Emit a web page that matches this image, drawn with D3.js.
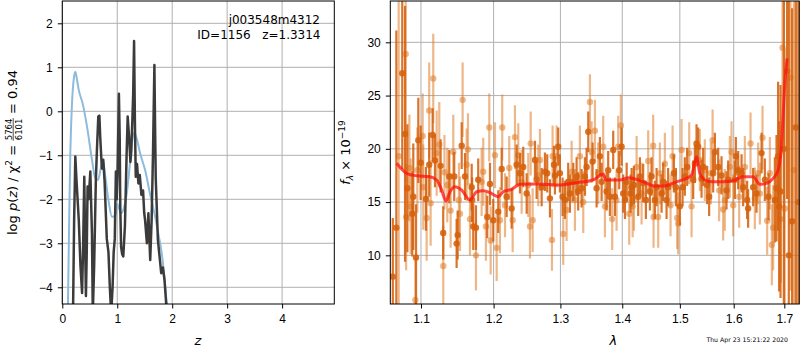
<!DOCTYPE html>
<html>
<head>
<meta charset="utf-8">
<script src="https://cdn.jsdelivr.net/npm/d3@7"></script>
<style>
  body { margin: 0; background: #fff; }
  svg { font-family: "DejaVu Sans", sans-serif; display: block; }
  .grid line { stroke: #b0b0b0; stroke-width: 1; }
  .axis text { font-size: 12px; fill: #000; }
  .axis line { stroke: #000; }
  .frame { fill: none; stroke: #000; stroke-width: 1; }
</style>
</head>
<body>
<svg width="800" height="350"></svg>
<script>
// ---- left panel: log p(z) ----
const zTicks = [0, 1, 2, 3, 4];
const pTicks = [-4, -3, -2, -1, 0, 1, 2];

// prior-ish smooth curve (light blue)
const blueCurve = [
  [0.10, -4.6], [0.125, -2.5], [0.146, -0.95], [0.177, 0.19], [0.21, 0.75], [0.237, 0.9],
  [0.27, 0.7], [0.30, 0.48], [0.37, 0.18], [0.45, -0.35], [0.54, -1.1], [0.60, -1.52],
  [0.65, -1.56], [0.70, -1.3], [0.74, -1.12], [0.78, -1.45], [0.84, -2.02], [0.905, -2.4],
  [0.965, -2.36], [1.0, -2.1], [1.03, -2.2], [1.075, -2.32], [1.12, -2.2], [1.17, -1.9],
  [1.23, -1.2], [1.28, -0.6], [1.31, -0.49], [1.36, -0.65], [1.415, -0.95], [1.506, -1.33],
  [1.60, -1.9], [1.69, -2.4], [1.75, -2.8], [1.81, -3.23], [1.86, -3.8], [1.90, -4.36], [1.93, -4.7]
];

// jagged p(z) (dark grey)
const darkCurve = [
  [0.195, -4.6], [0.215, -2.5], [0.237, -1.03], [0.26, -1.6], [0.30, -2.47], [0.33, -3.5],
  [0.36, -4.13], [0.38, -3.0], [0.40, -1.49], [0.415, -3.0], [0.43, -4.2], [0.445, -3.2],
  [0.46, -1.71], [0.48, -2.0], [0.51, -1.37], [0.54, -2.8], [0.555, -4.6], [0.58, -3.5],
  [0.61, -1.6], [0.63, -0.88], [0.655, -0.12], [0.675, -0.1], [0.69, -0.58], [0.72, -1.3],
  [0.745, -1.1], [0.77, -1.6], [0.81, -2.9], [0.84, -3.2], [0.865, -4.0], [0.89, -4.6],
  [0.915, -4.0], [0.935, -3.2], [0.955, -2.9], [0.975, -1.37], [0.99, -2.0], [1.005, -1.4],
  [1.03, 0.4], [1.045, -0.6], [1.055, -2.17], [1.07, -3.08], [1.09, -3.25], [1.11, -3.3],
  [1.14, -2.6], [1.17, -1.0], [1.19, -0.12], [1.215, -0.58], [1.24, -1.15], [1.255, -0.9],
  [1.275, -0.2], [1.29, 0.4], [1.306, 1.6], [1.322, -0.3], [1.337, -1.49], [1.36, -1.2],
  [1.385, -1.64], [1.41, -1.45], [1.44, -1.9], [1.47, -1.8], [1.49, -2.3], [1.506, -2.47],
  [1.54, -3.0], [1.567, -2.32], [1.585, -2.9], [1.60, -3.38], [1.625, -2.5], [1.65, -1.0],
  [1.676, 1.05], [1.69, -0.5], [1.70, -1.5], [1.74, -2.93], [1.77, -3.3], [1.80, -3.68],
  [1.83, -3.55], [1.86, -3.83], [1.89, -4.36], [1.91, -4.7]
];

// ---- right panel: spectrum ----
const lamTicks = [1.1, 1.2, 1.3, 1.4, 1.5, 1.6, 1.7];
const fluxTicks = [10, 15, 20, 25, 30];

// [lambda, flux, error]
const specLight = [
  [1.071, 19.3, 16], [1.080, 28.9, 12], [1.0806, 13.6, 5], [1.0848, 18.2, 5], [1.0865, 14.6, 4.5],
  [1.0926, 5.8, 4], [1.0952, 18.0, 4], [1.1022, 21.2, 4], [1.103, 16.4, 4], [1.1075, 13.5, 4],
  [1.1109, 23.6, 4.5], [1.1128, 14.9, 4], [1.1163, 26.6, 4.2], [1.1209, 19.6, 4], [1.1244, 20.4, 4],
  [1.1298, 9.0, 3.8], [1.1314, 17.8, 3.5], [1.1352, 16.6, 3.5], [1.1398, 14.2, 3.5], [1.1434, 19.7, 3.5],
  [1.1512, 15.2, 3.5], [1.1526, 13.9, 3.5], [1.1563, 24.6, 3.5], [1.1619, 18.5, 3.4], [1.1637, 19.95, 3.4],
  [1.1665, 13.4, 3.4], [1.1749, 10.0, 3.3], [1.1829, 16.9, 3.2], [1.1852, 17.85, 3.2], [1.189, 12.7, 3.2],
  [1.1938, 22.0, 3.2], [1.1958, 11.4, 3.2], [1.202, 19.4, 3.1], [1.2044, 10.7, 3.1], [1.2092, 13.3, 3.1],
  [1.2125, 22.0, 3.1], [1.2165, 14.7, 3.0], [1.2227, 18.2, 3.0], [1.2277, 13.3, 3.0], [1.2311, 21.1, 3.0],
  [1.236, 19.4, 3.0], [1.241, 16.9, 3.0], [1.2509, 16.6, 3.0], [1.2534, 12.7, 3.0], [1.2545, 20.5, 3.0],
  [1.2575, 13.3, 3.0], [1.266, 17.5, 2.9], [1.2685, 18.95, 2.9], [1.2869, 11.45, 2.9], [1.2879, 19.3, 2.9],
  [1.2941, 19.3, 2.9], [1.3044, 12.0, 2.9], [1.3097, 14.25, 2.9], [1.3176, 17.85, 2.9], [1.3228, 15.2, 2.9],
  [1.3307, 19.3, 2.9], [1.3361, 15.0, 2.9], [1.3468, 24.4, 2.6], [1.3495, 19.7, 2.9], [1.3549, 21.7, 2.9],
  [1.3602, 17.7, 2.9], [1.3684, 20.2, 2.9], [1.3712, 14.6, 2.9], [1.3832, 13.4, 2.9], [1.3905, 15.2, 2.9],
  [1.3932, 20.2, 2.9], [1.3977, 22.2, 2.9], [1.4117, 13.9, 2.9], [1.4175, 14.6, 2.9], [1.4197, 15.2, 2.9],
  [1.4243, 18.3, 2.9], [1.4328, 15.8, 2.9], [1.4442, 18.85, 2.9], [1.4528, 20.3, 2.9], [1.4535, 13.6, 2.9],
  [1.4616, 13.6, 2.9], [1.4645, 17.7, 2.9], [1.4733, 18.6, 2.9], [1.4834, 14.7, 2.9], [1.487, 19.3, 2.9],
  [1.4952, 13.5, 2.9], [1.497, 13.0, 2.9], [1.5031, 19.9, 2.9], [1.5169, 19.6, 2.9], [1.5212, 14.6, 2.9],
  [1.5364, 18.95, 2.9], [1.5456, 18.0, 2.9], [1.5568, 17.7, 2.9], [1.56, 20.8, 2.9], [1.5723, 16.1, 2.9],
  [1.5799, 14.3, 2.9], [1.583, 15.2, 2.9], [1.5926, 18.3, 2.9], [1.5958, 19.7, 2.9], [1.5989, 14.7, 2.9],
  [1.6105, 15.5, 2.9], [1.6215, 18.3, 2.9], [1.6326, 20.5, 2.9], [1.641, 15.35, 2.9], [1.6476, 17.7, 2.9],
  [1.6509, 15.8, 2.9], [1.6562, 21.05, 3.0], [1.6654, 13.25, 3.2], [1.6708, 17.7, 3.4], [1.6748, 11.0, 3.8],
  [1.6774, 12.6, 4.0], [1.6929, 13.4, 6], [1.6964, 29.5, 10], [1.701, 14.4, 15], [1.7127, 26.7, 20],
  [1.7196, 18.0, 30]
];

const specDark = [
  [1.0635, 8.0, 5.5], [1.068, 12.6, 18.5], [1.0756, 27.1, 9], [1.0792, 21.4, 12], [1.0822, 16.3, 6],
  [1.0886, 13.9, 4], [1.0899, 15.5, 5], [1.0935, 9.8, 5], [1.0965, 20.8, 4], [1.0996, 18.7, 3.5],
  [1.1066, 15.3, 3], [1.1109, 18.5, 3], [1.1155, 21.3, 2.5], [1.1186, 18.9, 2.5], [1.1262, 18.4, 2.5],
  [1.1297, 12.1, 2.5], [1.1379, 17.4, 2.5], [1.1447, 17.4, 2.3], [1.148, 11.1, 2.3], [1.1494, 11.9, 2.3],
  [1.155, 20.3, 2.2], [1.1596, 17.4, 2.2], [1.1689, 16.4, 2.2], [1.1695, 15.2, 2.1], [1.1711, 12.7, 2.2],
  [1.1749, 12.6, 2.1], [1.1781, 17.1, 2.0], [1.1909, 13.6, 2.0], [1.1948, 16.7, 2.0], [1.1995, 13.3, 2.0],
  [1.2067, 14.1, 2.0], [1.2117, 18.1, 2.0], [1.2189, 15.5, 1.9], [1.2262, 14.4, 1.9], [1.2336, 18.5, 1.9],
  [1.2385, 17.7, 1.9], [1.2434, 18.3, 1.9], [1.2485, 15.8, 1.9], [1.261, 18.95, 1.8], [1.2635, 17.1, 1.8],
  [1.2711, 16.4, 1.8], [1.2761, 17.85, 1.8], [1.2796, 17.7, 1.8], [1.2838, 15.35, 1.8], [1.29, 18.5, 1.8],
  [1.2915, 17.5, 1.8], [1.2966, 20.2, 1.8], [1.2992, 17.7, 1.8], [1.3034, 15.5, 1.8], [1.307, 15.2, 1.8],
  [1.3122, 16.9, 1.8], [1.3149, 15.8, 1.8], [1.3202, 16.9, 1.8], [1.3255, 17.4, 1.8], [1.328, 16.0, 1.8],
  [1.3334, 16.3, 1.8], [1.3388, 17.4, 1.8], [1.3415, 18.3, 1.8], [1.3441, 21.6, 1.9], [1.3511, 18.8, 1.8],
  [1.3576, 16.3, 1.8], [1.363, 19.3, 1.8], [1.3658, 16.9, 1.8], [1.374, 16.0, 1.8], [1.3766, 18.0, 1.8],
  [1.3794, 15.5, 1.8], [1.3849, 19.9, 1.8], [1.3877, 15.5, 1.8], [1.3949, 18.0, 1.8], [1.3989, 20.2, 1.8],
  [1.4016, 15.8, 1.8], [1.4045, 15.2, 1.8], [1.4074, 16.9, 1.8], [1.4141, 15.8, 1.8], [1.4158, 16.4, 1.8],
  [1.4197, 16.6, 1.8], [1.427, 15.5, 1.8], [1.4299, 17.4, 1.8], [1.4355, 16.8, 1.8], [1.4402, 15.2, 1.8],
  [1.4471, 16.0, 1.8], [1.45, 17.4, 1.8], [1.4558, 15.2, 1.8], [1.4588, 16.4, 1.8], [1.4675, 15.8, 1.8],
  [1.4703, 16.9, 1.8], [1.4763, 15.2, 1.8], [1.4791, 16.4, 1.8], [1.4893, 17.7, 1.8], [1.4929, 16.4, 1.8],
  [1.5, 14.6, 1.8], [1.5049, 16.4, 1.8], [1.509, 17.4, 1.8], [1.5132, 18.3, 1.8], [1.5242, 17.1, 1.8],
  [1.5273, 18.6, 1.8], [1.5303, 20.5, 1.8], [1.5333, 20.2, 1.8], [1.5395, 17.2, 1.8], [1.5425, 18.3, 1.8],
  [1.5499, 16.6, 1.8], [1.5536, 15.5, 1.8], [1.5611, 17.7, 1.8], [1.5643, 19.7, 1.8], [1.5705, 18.3, 1.8],
  [1.5768, 17.5, 1.8], [1.5862, 16.1, 1.8], [1.5894, 17.1, 1.8], [1.6022, 17.1, 1.8], [1.6041, 19.3, 1.8],
  [1.6086, 18.0, 1.8], [1.6151, 17.7, 1.8], [1.6182, 16.4, 1.8], [1.6259, 15.2, 1.8], [1.6279, 14.4, 1.8],
  [1.6377, 16.4, 1.8], [1.6443, 15.8, 1.8], [1.6543, 19.6, 1.9], [1.6608, 17.1, 2.0], [1.6682, 15.5, 2.2],
  [1.6808, 15.2, 4], [1.6842, 16.3, 5], [1.6874, 19.3, 7], [1.6895, 14.6, 8], [1.6923, 16.0, 10],
  [1.699, 20.0, 25], [1.7057, 27.3, 12], [1.7092, 10.0, 30], [1.7159, 13.2, 20], [1.7237, 22.0, 30],
  [1.7288, 15.0, 30]
];

// best-fit model (red)
const modelCurve = [
  [1.0684, 18.64], [1.0813, 17.7], [1.0943, 17.47], [1.1119, 17.38], [1.1209, 17.07], [1.1276, 16.13],
  [1.1334, 15.1], [1.1389, 15.97], [1.1457, 16.44], [1.1549, 16.13], [1.1665, 15.19], [1.1759, 15.97],
  [1.1852, 16.07], [1.1948, 15.88], [1.2067, 15.5], [1.2139, 15.97], [1.2262, 16.2], [1.2385, 16.67],
  [1.2635, 16.7], [1.2992, 16.6], [1.3255, 16.82], [1.3521, 17.07], [1.3684, 17.63], [1.3728, 17.07],
  [1.396, 17.07], [1.41, 17.29], [1.4355, 16.9], [1.4558, 16.5], [1.4703, 16.5], [1.4941, 16.9],
  [1.5122, 17.23], [1.5212, 17.54], [1.5303, 19.26], [1.5364, 17.7], [1.5456, 17.07], [1.5611, 16.9],
  [1.5799, 16.9], [1.5989, 17.0], [1.6182, 17.38], [1.6377, 17.38], [1.6509, 16.67], [1.6642, 16.76],
  [1.6774, 17.23], [1.6874, 18.0], [1.6923, 19.26], [1.6964, 22.07], [1.701, 26.15], [1.7057, 28.5]
];

const svg = d3.select('svg');
const plotTop = 1, plotBottom = 304;

// ===== Left panel =====
const L = { x0: 62.3, x1: 334.3 };
const xZ = d3.scaleLinear().domain([0, 4.95]).range([L.x0, L.x1]);
const yP = d3.scaleLinear().domain([-4.38, 2.507]).range([plotBottom, plotTop]);

svg.append('clipPath').attr('id', 'clipL')
  .append('rect').attr('x', L.x0).attr('y', plotTop).attr('width', L.x1 - L.x0).attr('height', plotBottom - plotTop);

const gridL = svg.append('g').attr('class', 'grid');
gridL.selectAll('.vx').data(zTicks).enter().append('line')
  .attr('x1', d => xZ(d)).attr('x2', d => xZ(d)).attr('y1', plotTop).attr('y2', plotBottom);
gridL.selectAll('.hy').data(pTicks).enter().append('line')
  .attr('x1', L.x0).attr('x2', L.x1).attr('y1', d => yP(d)).attr('y2', d => yP(d));

svg.append('path')
  .datum(blueCurve)
  .attr('clip-path', 'url(#clipL)')
  .attr('d', d3.line().x(d => xZ(d[0])).y(d => yP(d[1])).curve(d3.curveMonotoneX))
  .attr('fill', 'none').attr('stroke', '#8dbbdb').attr('stroke-width', 2);

svg.append('path')
  .datum(darkCurve)
  .attr('clip-path', 'url(#clipL)')
  .attr('d', d3.line().x(d => xZ(d[0])).y(d => yP(d[1])))
  .attr('fill', 'none').attr('stroke', '#3b3b3b').attr('stroke-width', 2.5)
  .attr('stroke-linejoin', 'round');

svg.append('g').attr('class', 'axis')
  .attr('transform', `translate(0,${plotBottom})`)
  .call(d3.axisBottom(xZ).tickValues(zTicks).tickSize(4.5).tickPadding(5.5).tickFormat(d3.format('d')))
  .call(g => g.select('.domain').remove());
svg.append('g').attr('class', 'axis')
  .attr('transform', `translate(${L.x0},0)`)
  .call(d3.axisLeft(yP).tickValues(pTicks).tickSize(4.5).tickPadding(5).tickFormat(d3.format('d')))
  .call(g => g.select('.domain').remove());

svg.append('rect').attr('class', 'frame')
  .attr('x', L.x0).attr('y', plotTop).attr('width', L.x1 - L.x0).attr('height', plotBottom - plotTop);

// annotation
svg.append('text').attr('x', 320).attr('y', 24).attr('text-anchor', 'end')
  .attr('font-size', 12).text('j003548m4312');
svg.append('text').attr('x', 320.5).attr('y', 39).attr('text-anchor', 'end')
  .attr('font-size', 12).style('white-space', 'pre').text('ID=1156   z=1.3314');

svg.append('text').attr('x', xZ(2.47)).attr('y', 345).attr('text-anchor', 'middle')
  .attr('font-size', 13).attr('font-style', 'italic').text('z');

// rotated y label with a stacked fraction
function rotatedLabel(cy, baseX, parts) {
  const g = svg.append('g').attr('transform', `translate(${baseX},${cy}) rotate(-90)`);
  let cur = 0;
  const items = [];
  parts.forEach(p => {
    if (p.frac) {
      const num = g.append('text').attr('font-size', 8.5).attr('text-anchor', 'middle')
        .attr('y', -5.5).text(p.frac[0]);
      const den = g.append('text').attr('font-size', 8.5).attr('text-anchor', 'middle')
        .attr('y', 4.8).text(p.frac[1]);
      const w = Math.max(num.node().getComputedTextLength(), den.node().getComputedTextLength()) + 1;
      const bar = g.append('line').attr('y1', -3.8).attr('y2', -3.8)
        .attr('stroke', '#000').attr('stroke-width', 0.7);
      items.push({ w, place: x0 => {
        num.attr('x', x0 + w / 2); den.attr('x', x0 + w / 2);
        bar.attr('x1', x0).attr('x2', x0 + w);
      } });
      cur += w;
    } else {
      const t = g.append('text').attr('font-size', p.size || 13)
        .attr('font-style', p.italic ? 'italic' : 'normal')
        .attr('y', p.dy || 0).style('white-space', 'pre').text(p.t);
      const w = t.node().getComputedTextLength();
      items.push({ w, place: x0 => t.attr('x', x0) });
      cur += w;
    }
  });
  let x = -cur / 2;
  items.forEach(it => { it.place(x); x += it.w; });
}

rotatedLabel((plotTop + plotBottom) / 2, 17, [
  { t: 'log ' }, { t: 'p', italic: true }, { t: '(' }, { t: 'z', italic: true },
  { t: ') / χ' }, { t: '2', size: 9, dy: -5 }, { t: ' = ' },
  { frac: ['5764', '6101'] }, { t: ' = 0.94' }
]);

// ===== Right panel =====
const R = { x0: 390.3, x1: 799.3 };
const xL = d3.scaleLog().domain([1.0603, 1.7308]).range([R.x0, R.x1]);
const yF = d3.scaleLinear().domain([5.43, 33.88]).range([plotBottom, plotTop]);

svg.append('clipPath').attr('id', 'clipR')
  .append('rect').attr('x', R.x0).attr('y', plotTop).attr('width', R.x1 - R.x0).attr('height', plotBottom - plotTop);

const gridR = svg.append('g').attr('class', 'grid');
gridR.selectAll('.vx').data(lamTicks).enter().append('line')
  .attr('x1', d => xL(d)).attr('x2', d => xL(d)).attr('y1', plotTop).attr('y2', plotBottom);
gridR.selectAll('.hy').data(fluxTicks).enter().append('line')
  .attr('x1', R.x0).attr('x2', R.x1).attr('y1', d => yF(d)).attr('y2', d => yF(d));

function drawSpec(data, color, opacity) {
  const g = svg.append('g').attr('clip-path', 'url(#clipR)');
  g.selectAll('line').data(data).enter().append('line')
    .attr('x1', d => xL(d[0])).attr('x2', d => xL(d[0]))
    .attr('y1', d => yF(d[1] - d[2])).attr('y2', d => yF(d[1] + d[2]))
    .attr('stroke', color).attr('stroke-width', 2.2).attr('stroke-opacity', opacity);
  g.selectAll('circle').data(data).enter().append('circle')
    .attr('cx', d => xL(d[0])).attr('cy', d => yF(d[1])).attr('r', 3.2)
    .attr('fill', color).attr('fill-opacity', opacity);
}
drawSpec(specLight, '#e07b28', 0.55);
drawSpec(specDark, '#d5610c', 0.88);

svg.append('path')
  .datum(modelCurve)
  .attr('clip-path', 'url(#clipR)')
  .attr('d', d3.line().x(d => xL(d[0])).y(d => yF(d[1])).curve(d3.curveMonotoneX))
  .attr('fill', 'none').attr('stroke', '#ff1010').attr('stroke-width', 3)
  .attr('stroke-opacity', 0.75).attr('stroke-linejoin', 'round');

svg.append('g').attr('class', 'axis')
  .attr('transform', `translate(0,${plotBottom})`)
  .call(d3.axisBottom(xL).tickValues(lamTicks).tickSize(4.5).tickPadding(5.5).tickFormat(d3.format('.1f')))
  .call(g => g.select('.domain').remove());
svg.append('g').attr('class', 'axis')
  .attr('transform', `translate(${R.x0},0)`)
  .call(d3.axisLeft(yF).tickValues(fluxTicks).tickSize(4.5).tickPadding(5).tickFormat(d3.format('d')))
  .call(g => g.select('.domain').remove());

svg.append('rect').attr('class', 'frame')
  .attr('x', R.x0).attr('y', plotTop).attr('width', R.x1 - R.x0).attr('height', plotBottom - plotTop);

svg.append('text').attr('x', xL(1.385)).attr('y', 345).attr('text-anchor', 'middle')
  .attr('font-size', 13).attr('font-style', 'italic').text('λ');

rotatedLabel((plotTop + plotBottom) / 2, 350, [
  { t: 'f', italic: true }, { t: 'λ', size: 9, dy: 3, italic: true }, { t: ' × 10' },
  { t: '−19', size: 9, dy: -5 }
]);

svg.append('text').attr('x', 788).attr('y', 342).attr('text-anchor', 'end')
  .attr('font-size', 6.2).text('Thu Apr 23 15:21:22 2020');
</script>
</body>
</html>
